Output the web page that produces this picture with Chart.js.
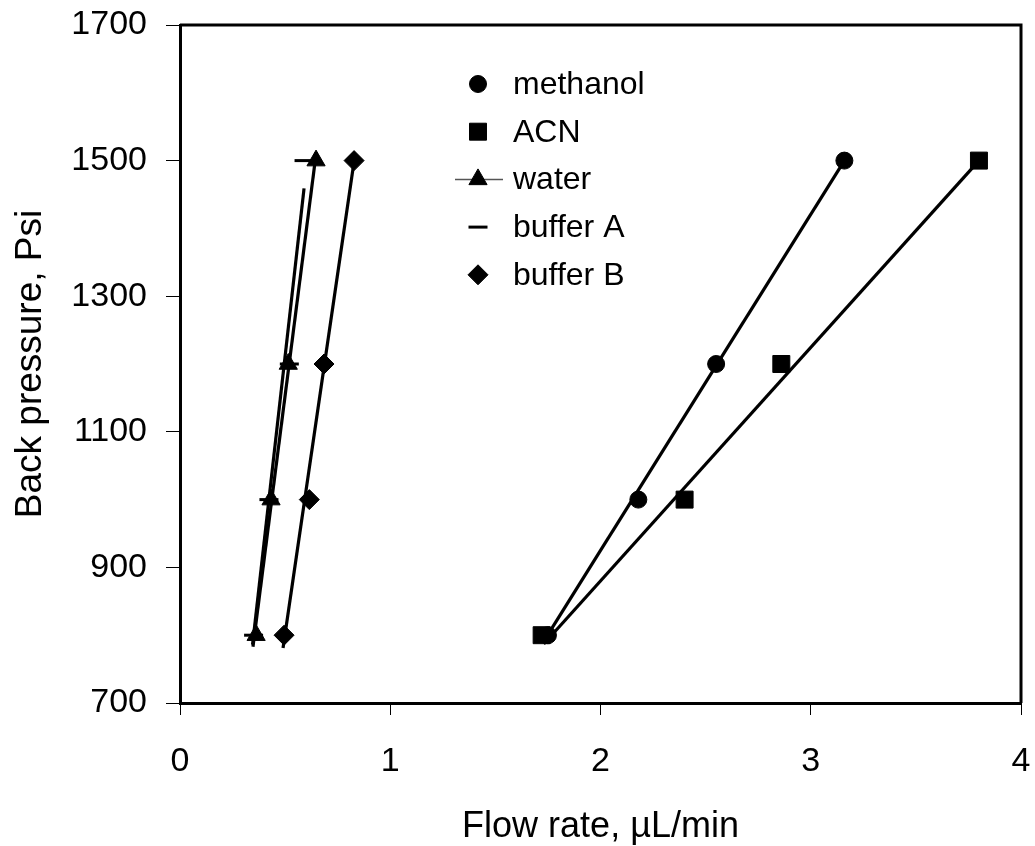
<!DOCTYPE html>
<html><head><meta charset="utf-8">
<script src="https://cdn.jsdelivr.net/npm/chart.js@4"></script>
<style>html,body{margin:0;padding:0;background:#fff}</style>
</head><body>
<canvas id="c" width="1035" height="846" style="display:block"></canvas>
<script>
// ---- data ----
const yValues = [800, 1000, 1200, 1500];
const methanolX = [1.75, 2.18, 2.55, 3.16];
const acnX = [1.72, 2.40, 2.86, 3.80];
const waterX = [0.362, 0.433, 0.515, 0.647];
const bufferAX = [0.35, 0.423, 0.52, 0.59];
const bufferBX = [0.495, 0.615, 0.685, 0.828];
// trendline end points [x, y]
const methanolTrend = [[1.74, 796], [3.16, 1500]];
const acnTrend = [[1.73, 787], [3.80, 1500]];
const waterTrend = [[0.347, 783], [0.648, 1512]];
const bufferATrend = [[0.345, 786], [0.59, 1459]];
const bufferBTrend = [[0.49, 781], [0.828, 1499]];
const xTicks = [0, 1, 2, 3, 4];
const yTicks = [700, 900, 1100, 1300, 1500, 1700];
const seriesNames = ['methanol', 'ACN', 'water', 'buffer A', 'buffer B'];

const FONT = "'Liberation Sans', Arial, sans-serif";
const pts = xs => xs.map((x, i) => ({x: x, y: yValues[i]}));
const tl = arr => arr.map(p => ({x: p[0], y: p[1]}));

const markerStyles = [
  {pointStyle: 'circle', radius: 8.5, bw: 1},
  {pointStyle: 'rect', radius: 12, bw: 1},
  {pointStyle: 'triangle', radius: 10.5, bw: 1},
  {pointStyle: 'line', radius: 9.5, bw: 3},
  {pointStyle: 'rectRot', radius: 10, bw: 1}
];
const markerData = [methanolX, acnX, waterX, bufferAX, bufferBX];
const trendData = [methanolTrend, acnTrend, waterTrend, bufferATrend, bufferBTrend];

const datasets = [];
markerData.forEach((xs, i) => {
  const m = markerStyles[i];
  datasets.push({
    label: seriesNames[i], data: pts(xs), showLine: false,
    pointStyle: m.pointStyle, pointRadius: m.radius, pointHoverRadius: m.radius,
    backgroundColor: '#000', borderColor: '#000', pointBorderWidth: m.bw,
    order: 5 - i
  });
});
trendData.forEach((t, i) => {
  datasets.push({
    label: seriesNames[i] + ' trend', data: tl(t), showLine: true,
    pointRadius: 0, borderColor: '#000', borderWidth: 3.2, fill: false,
    order: 20
  });
});

const framePlugin = {
  id: 'frame',
  afterDraw(chart) {
    const {ctx, chartArea: a} = chart;
    ctx.save();
    ctx.strokeStyle = '#000';
    ctx.lineWidth = 3;
    ctx.beginPath();
    ctx.moveTo(a.left, a.top);
    ctx.lineTo(a.right, a.top);
    ctx.lineTo(a.right, a.bottom);
    ctx.stroke();
    ctx.restore();
  }
};

const legendPlugin = {
  id: 'innerLegend',
  afterDraw(chart) {
    const ctx = chart.ctx;
    ctx.save();
    const mx = 478, tx = 513, y0 = 84, dy = 47.7;
    ctx.font = '32px ' + FONT;
    ctx.textBaseline = 'middle';
    ctx.textAlign = 'left';
    seriesNames.forEach((name, i) => {
      const y = y0 + dy * i;
      const m = markerStyles[i];
      if (i === 2) {
        ctx.strokeStyle = '#555';
        ctx.lineWidth = 1.5;
        ctx.beginPath(); ctx.moveTo(455, y); ctx.lineTo(503, y); ctx.stroke();
      }
      ctx.fillStyle = '#000';
      ctx.strokeStyle = '#000';
      ctx.lineWidth = m.bw;
      Chart.helpers.drawPoint(ctx, {pointStyle: m.pointStyle, radius: m.radius, borderWidth: m.bw, rotation: 0}, mx, y);
      ctx.fillStyle = '#000';
      ctx.fillText(name, tx, y + 1);
    });
    ctx.restore();
  }
};

new Chart(document.getElementById('c'), {
  type: 'scatter',
  data: {datasets},
  plugins: [framePlugin, legendPlugin],
  options: {
    responsive: false, animation: false,
    layout: {padding: {left: 0, right: 14, top: 25, bottom: 0}},
    plugins: {legend: {display: false}, tooltip: {enabled: false}},
    scales: {
      x: {
        type: 'linear', min: 0, max: 4,
        afterBuildTicks: s => { s.ticks = xTicks.map(v => ({value: v})); },
        afterFit: s => { s.height = 143; s.paddingLeft = 0; s.paddingRight = 0; },
        ticks: {color: '#000', font: {size: 34, family: FONT}, padding: 26, maxRotation: 0, callback: v => String(v)},
        grid: {drawOnChartArea: false, drawTicks: true, tickLength: 12, tickColor: '#000', tickWidth: 1, color: '#000'},
        border: {display: true, color: '#000', width: 3},
        title: {display: true, text: 'Flow rate, µL/min', color: '#000', font: {size: 36, family: FONT, lineHeight: 1.0}, padding: {top: 0, bottom: 1}}
      },
      y: {
        type: 'linear', min: 700, max: 1700,
        afterBuildTicks: s => { s.ticks = yTicks.map(v => ({value: v})); },
        afterFit: s => { s.width = 180; s.paddingTop = 0; s.paddingBottom = 0; },
        ticks: {color: '#000', font: {size: 34, family: FONT}, padding: 19, callback: v => String(v)},
        grid: {drawOnChartArea: false, drawTicks: true, tickLength: 14, tickColor: '#000', tickWidth: 1, color: '#000'},
        border: {display: true, color: '#000', width: 3},
        title: {display: true, text: 'Back pressure, Psi', color: '#000', font: {size: 37, family: FONT}, padding: {top: 9, bottom: 0}}
      }
    }
  }
});
</script>
</body></html>
